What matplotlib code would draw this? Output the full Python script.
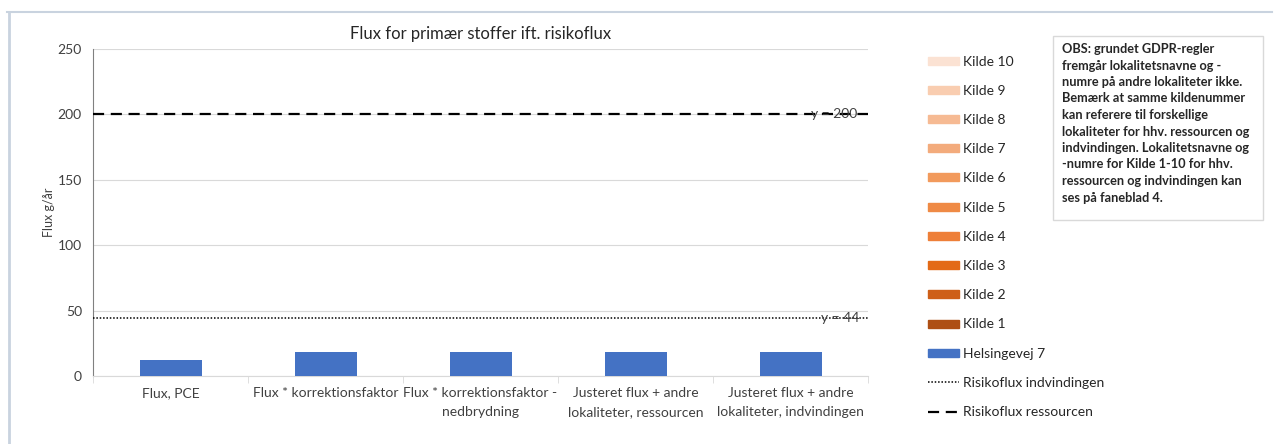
import matplotlib.pyplot as plt
from matplotlib.patches import Patch, Rectangle
from matplotlib.lines import Line2D

plt.rcParams['font.family'] = ['Lato', 'DejaVu Sans']

categories = ['Flux, PCE', 'Flux * korrektionsfaktor', 'Flux * korrektionsfaktor -\nnedbrydning',
              'Justeret flux + andre\nlokaliteter, ressourcen', 'Justeret flux + andre\nlokaliteter, indvindingen']
helsingevej = [12.5, 18.5, 18.5, 18.5, 18.5]
risiko_ressourcen = 200
risiko_indvindingen = 44

kilde_names = ['Kilde 10', 'Kilde 9', 'Kilde 8', 'Kilde 7', 'Kilde 6',
               'Kilde 5', 'Kilde 4', 'Kilde 3', 'Kilde 2', 'Kilde 1']
kilde_colors = ['#FBE2D3', '#F9CDB0', '#F6BA93', '#F3AB7C', '#F29A5C',
                '#EF8A45', '#EE7F38', '#E36A17', '#CE5F18', '#AE4F14']

note = ("OBS: grundet GDPR-regler\nfremgår lokalitetsnavne og -\nnumre på andre lokaliteter ikke.\n"
        "Bemærk at samme kildenummer\nkan referere til forskellige\nlokaliteter for hhv. ressourcen og\n"
        "indvindingen. Lokalitetsnavne og\n-numre for Kilde 1-10 for hhv.\n"
        "ressourcen og indvindingen kan\nses på faneblad 4.")

fig = plt.figure(figsize=(12.74, 4.44), dpi=100)
ax = fig.add_axes([93/1274, 1 - 376/444, 775/1274, 327/444])

x = list(range(len(categories)))
ax.bar(x, helsingevej, width=0.4, color='#4472C4', zorder=3)
ax.axhline(risiko_ressourcen, color='black', lw=1.6, ls=(0, (5, 3)), zorder=4)
ax.axhline(risiko_indvindingen, color='black', lw=1.1, ls=(0, (1, 1.2)), zorder=4)
ax.text(4.28, risiko_ressourcen, 'y = 200', ha='center', va='center', fontsize=10, color='#404040', zorder=5)
ax.text(4.32, risiko_indvindingen, 'y = 44', ha='center', va='center', fontsize=10, color='#404040', zorder=5)

ax.set_xlim(-0.5, 4.5)
ax.set_ylim(0, 250)
ax.set_yticks([0, 50, 100, 150, 200, 250])
ax.yaxis.grid(True, color='#D9D9D9', lw=0.8, zorder=0)
ax.set_xticks(x)
ax.set_xticklabels(categories, fontsize=10, color='#404040', linespacing=1.7)
ax.set_xticks([-0.5, 0.5, 1.5, 2.5, 3.5, 4.5], minor=True)
ax.tick_params(axis='x', which='major', length=0, pad=8)
ax.tick_params(axis='x', which='minor', length=5, color='#D9D9D9')
ax.tick_params(axis='y', length=0, labelsize=10, labelcolor='#404040', pad=8)
for s in ['top', 'right']:
    ax.spines[s].set_visible(False)
ax.spines['bottom'].set_color('#D9D9D9')
ax.spines['left'].set_color('#808080')
ax.set_ylabel('Flux g/år', fontsize=9, color='#404040', labelpad=2)
ax.set_title('Flux for primær stoffer ift. risikoflux', fontsize=12, color='#262626', pad=7)

handles = [Patch(color=c) for c in kilde_colors]
handles += [Patch(color='#4472C4'),
            Line2D([], [], color='black', lw=1.1, ls=(0, (1, 1.2))),
            Line2D([], [], color='black', lw=1.6, ls=(0, (5, 3)))]
labels = kilde_names + ['Helsingevej 7', 'Risikoflux indvindingen', 'Risikoflux ressourcen']
fig.legend(handles, labels, loc='upper left', bbox_to_anchor=(915/1274, 1 - 43/444),
           frameon=False, fontsize=10, labelspacing=1.24, handlelength=2.3,
           handleheight=0.5, handletextpad=0.25, labelcolor='#262626')

fig.add_artist(Rectangle((1053/1274, 1 - 220/444), 210/1274, 184/444, transform=fig.transFigure,
                         fc='white', ec='#D9D9D9', lw=1))
fig.text(1062/1274, 1 - 43/444, note, ha='left', va='top', fontsize=9.2, fontweight='bold',
         linespacing=1.45, color='#262626')

fig.add_artist(Line2D([7/1274, 1272/1274], [1 - 12/444, 1 - 12/444], color='#C9D3DF', lw=1.5))
fig.add_artist(Line2D([9/1274, 9/1274], [0, 1 - 12/444], color='#C9D3DF', lw=2))

fig.savefig('out.png', dpi=100)
